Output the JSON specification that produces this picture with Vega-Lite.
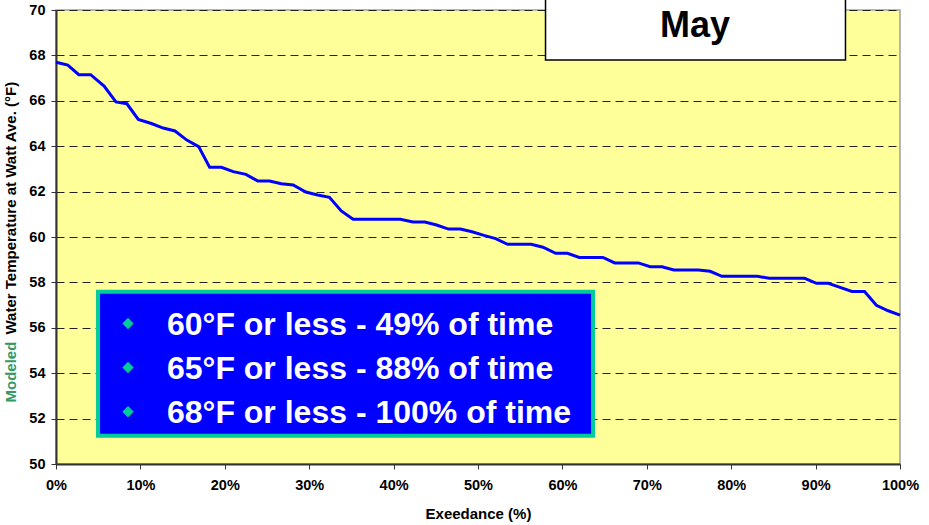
{
  "$schema": "https://vega.github.io/schema/vega-lite/v6.json",
  "autosize": {"type": "none"},
  "width": 844,
  "height": 454,
  "padding": {"left": 56, "top": 10, "right": 29, "bottom": 61},
  "background": "white",
  "config": {
    "font": "Liberation Sans",
    "view": {"fill": "#FFFF99", "stroke": "#A0A0A0", "strokeWidth": 1.5},
    "axis": {
      "labelFont": "Liberation Sans",
      "labelFontWeight": "bold",
      "labelFontSize": 14.5,
      "labelColor": "#000",
      "titleFont": "Liberation Sans",
      "titleFontWeight": "bold",
      "titleFontSize": 15,
      "titleColor": "#000",
      "domainColor": "#333",
      "domainWidth": 2,
      "tickColor": "#333",
      "tickSize": 5,
      "tickWidth": 1
    }
  },
  "datasets": {
    "curve": [
      {"pct": 0, "temp": 67.7},
      {"pct": 1.4, "temp": 67.57},
      {"pct": 2.7, "temp": 67.15},
      {"pct": 4.1, "temp": 67.15},
      {"pct": 5.7, "temp": 66.65},
      {"pct": 7.1, "temp": 65.95},
      {"pct": 8.4, "temp": 65.87},
      {"pct": 9.75, "temp": 65.18},
      {"pct": 11.3, "temp": 65.0},
      {"pct": 12.7, "temp": 64.8},
      {"pct": 14.1, "temp": 64.67},
      {"pct": 15.5, "temp": 64.27},
      {"pct": 16.9, "temp": 63.98},
      {"pct": 18.2, "temp": 63.07},
      {"pct": 19.6, "temp": 63.07},
      {"pct": 21.0, "temp": 62.88},
      {"pct": 22.5, "temp": 62.76},
      {"pct": 23.9, "temp": 62.47},
      {"pct": 25.3, "temp": 62.47},
      {"pct": 26.7, "temp": 62.35},
      {"pct": 28.1, "temp": 62.29},
      {"pct": 29.6, "temp": 61.98},
      {"pct": 31.0, "temp": 61.85},
      {"pct": 32.4, "temp": 61.75},
      {"pct": 33.8, "temp": 61.15},
      {"pct": 35.2, "temp": 60.78},
      {"pct": 36.6, "temp": 60.78},
      {"pct": 38.0, "temp": 60.78},
      {"pct": 39.4, "temp": 60.78},
      {"pct": 40.8, "temp": 60.78},
      {"pct": 42.3, "temp": 60.66},
      {"pct": 43.7, "temp": 60.66},
      {"pct": 45.1, "temp": 60.53},
      {"pct": 46.5, "temp": 60.35},
      {"pct": 47.9, "temp": 60.35},
      {"pct": 49.3, "temp": 60.23},
      {"pct": 50.7, "temp": 60.07},
      {"pct": 52.1, "temp": 59.93},
      {"pct": 53.5, "temp": 59.68},
      {"pct": 54.9, "temp": 59.68},
      {"pct": 56.3, "temp": 59.68},
      {"pct": 57.7, "temp": 59.55},
      {"pct": 59.2, "temp": 59.28},
      {"pct": 60.6, "temp": 59.28},
      {"pct": 62.0, "temp": 59.1},
      {"pct": 63.4, "temp": 59.1},
      {"pct": 64.8, "temp": 59.1},
      {"pct": 66.2, "temp": 58.86},
      {"pct": 67.6, "temp": 58.86},
      {"pct": 69.0, "temp": 58.86},
      {"pct": 70.4, "temp": 58.69},
      {"pct": 71.8, "temp": 58.69},
      {"pct": 73.2, "temp": 58.55},
      {"pct": 74.6, "temp": 58.55},
      {"pct": 76.1, "temp": 58.55},
      {"pct": 77.5, "temp": 58.49},
      {"pct": 78.9, "temp": 58.27},
      {"pct": 80.3, "temp": 58.27},
      {"pct": 81.7, "temp": 58.27},
      {"pct": 83.1, "temp": 58.27},
      {"pct": 84.5, "temp": 58.18},
      {"pct": 85.9, "temp": 58.18},
      {"pct": 87.3, "temp": 58.18},
      {"pct": 88.7, "temp": 58.18},
      {"pct": 90.1, "temp": 57.96},
      {"pct": 91.5, "temp": 57.96},
      {"pct": 92.9, "temp": 57.78},
      {"pct": 94.3, "temp": 57.6},
      {"pct": 95.8, "temp": 57.6},
      {"pct": 97.2, "temp": 56.99},
      {"pct": 98.6, "temp": 56.75},
      {"pct": 100, "temp": 56.56}
    ],
    "one": [{"k": 1}]
  },
  "layer": [
    {
      "data": {"name": "curve"},
      "mark": {"type": "line", "color": "#0000FF", "strokeWidth": 3, "interpolate": "linear"},
      "encoding": {
        "x": {
          "field": "pct",
          "type": "quantitative",
          "scale": {"domain": [0, 100], "nice": false},
          "axis": {
            "values": [0, 10, 20, 30, 40, 50, 60, 70, 80, 90, 100],
            "labelExpr": "datum.value + '%'",
            "title": "Exeedance (%)",
            "grid": false,
            "labelFlush": false,
            "labelPadding": 9,
            "titlePadding": 15
          }
        },
        "y": {
          "field": "temp",
          "type": "quantitative",
          "scale": {"domain": [50, 70], "nice": false, "zero": false},
          "axis": {
            "values": [50, 52, 54, 56, 58, 60, 62, 64, 66, 68, 70],
            "title": null,
            "labelPadding": 6,
            "grid": true,
            "gridColor": "#222",
            "gridDash": [8, 5],
            "gridWidth": 1
          }
        }
      }
    },
    {
      "data": {"name": "one"},
      "mark": {"type": "rect", "fill": "#0000FF", "stroke": "#00CC99", "strokeWidth": 4},
      "encoding": {
        "x": {"datum": 4.98, "type": "quantitative"},
        "x2": {"datum": 63.63},
        "y": {"datum": 57.59, "type": "quantitative"},
        "y2": {"datum": 51.25}
      }
    },
    {
      "data": {"name": "one"},
      "mark": {"type": "rect", "fill": "white", "stroke": "#000", "strokeWidth": 1.5, "clip": false},
      "encoding": {
        "x": {"datum": 58.0, "type": "quantitative"},
        "x2": {"datum": 93.54},
        "y": {"datum": 72, "type": "quantitative"},
        "y2": {"datum": 67.8}
      }
    },
    {
      "data": {"name": "one"},
      "mark": {"type": "text", "text": "May", "font": "Liberation Sans", "fontWeight": "bold", "fontSize": 36, "color": "#000", "align": "center", "baseline": "alphabetic", "clip": false},
      "encoding": {
        "x": {"datum": 75.7, "type": "quantitative"},
        "y": {"datum": 68.82, "type": "quantitative"}
      }
    },
    {
      "data": {"name": "one"},
      "mark": {"type": "point", "shape": "diamond", "filled": true, "color": "#00CC99", "size": 130, "opacity": 1},
      "encoding": {
        "x": {"datum": 8.53, "type": "quantitative"},
        "y": {"datum": 56.19, "type": "quantitative"}
      }
    },
    {
      "data": {"name": "one"},
      "mark": {"type": "point", "shape": "diamond", "filled": true, "color": "#00CC99", "size": 130, "opacity": 1},
      "encoding": {
        "x": {"datum": 8.53, "type": "quantitative"},
        "y": {"datum": 54.25, "type": "quantitative"}
      }
    },
    {
      "data": {"name": "one"},
      "mark": {"type": "point", "shape": "diamond", "filled": true, "color": "#00CC99", "size": 130, "opacity": 1},
      "encoding": {
        "x": {"datum": 8.53, "type": "quantitative"},
        "y": {"datum": 52.3, "type": "quantitative"}
      }
    },
    {
      "data": {"name": "one"},
      "mark": {"type": "text", "text": "60°F or less - 49% of time", "font": "Liberation Sans", "fontWeight": "bold", "fontSize": 32, "color": "white", "align": "left", "baseline": "alphabetic"},
      "encoding": {
        "x": {"datum": 13.15, "type": "quantitative"},
        "y": {"datum": 55.68, "type": "quantitative"}
      }
    },
    {
      "data": {"name": "one"},
      "mark": {"type": "text", "text": "65°F or less - 88% of time", "font": "Liberation Sans", "fontWeight": "bold", "fontSize": 32, "color": "white", "align": "left", "baseline": "alphabetic"},
      "encoding": {
        "x": {"datum": 13.15, "type": "quantitative"},
        "y": {"datum": 53.74, "type": "quantitative"}
      }
    },
    {
      "data": {"name": "one"},
      "mark": {"type": "text", "text": "68°F or less - 100% of time", "font": "Liberation Sans", "fontWeight": "bold", "fontSize": 32, "color": "white", "align": "left", "baseline": "alphabetic"},
      "encoding": {
        "x": {"datum": 13.15, "type": "quantitative"},
        "y": {"datum": 51.81, "type": "quantitative"}
      }
    },
    {
      "data": {"name": "one"},
      "mark": {"type": "text", "text": "Water Temperature at Watt Ave. (°F)", "font": "Liberation Sans", "fontWeight": "bold", "fontSize": 15, "color": "#000", "align": "center", "baseline": "middle", "angle": 270, "clip": false},
      "encoding": {
        "x": {"datum": -5.39, "type": "quantitative"},
        "y": {"datum": 61.27, "type": "quantitative"}
      }
    },
    {
      "data": {"name": "one"},
      "mark": {"type": "text", "text": "Modeled", "font": "Liberation Sans", "fontWeight": "bold", "fontSize": 15, "color": "#339966", "align": "center", "baseline": "middle", "angle": 270, "clip": false},
      "encoding": {
        "x": {"datum": -5.39, "type": "quantitative"},
        "y": {"datum": 54.05, "type": "quantitative"}
      }
    }
  ]
}
